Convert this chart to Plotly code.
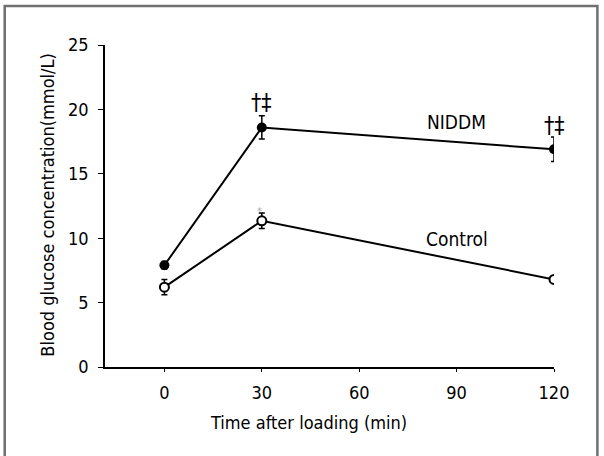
import plotly.graph_objects as go

time_min = [0, 30, 120]
niddm = [7.9, 18.6, 16.9]
niddm_err = [0.3, 0.9, 0.95]
control = [6.2, 11.35, 6.8]
control_err = [0.6, 0.6, 0.2]
x_ticks = [0, 30, 60, 90, 120]
y_ticks = [0, 5, 10, 15, 20, 25]

FONT = "DejaVu Sans Condensed, DejaVu Sans, sans-serif"

# plot area in figure pixels
L, R, T, B = 104.5, 554.5, 45, 367
W, H = R - L, B - T
def px(x):
    return (x - L) / W
def py(y):
    return (B - y) / H

fig = go.Figure()
fig.add_trace(go.Scatter(
    x=time_min, y=niddm, mode="lines+markers",
    line=dict(color="black", width=2),
    marker=dict(symbol="circle", size=10, color="black"),
    error_y=dict(type="data", array=niddm_err, color="black", thickness=1.5, width=3),
    showlegend=False))
fig.add_trace(go.Scatter(
    x=time_min, y=control, mode="lines+markers",
    line=dict(color="black", width=2),
    marker=dict(symbol="circle", size=9, color="white", line=dict(color="black", width=2)),
    error_y=dict(type="data", array=control_err, color="black", thickness=1.5, width=3),
    showlegend=False))

ann_font = dict(family=FONT, size=18, color="black")
lab_font = dict(family=FONT, size=19, color="black")
sym_font = dict(family=FONT, size=23, color="black")
C = dict(showarrow=False, xanchor="center", yanchor="middle")
fig.add_annotation(x=30, y=20.6, text="†‡", font=sym_font, **C)
fig.add_annotation(x=120, y=18.8, text="†‡", font=sym_font, **C)
fig.add_annotation(x=90, y=19.0, text="NIDDM", font=lab_font, **C)
fig.add_annotation(x=90, y=9.9, text="Control", font=lab_font, **C)
fig.add_annotation(x=29.2, y=12.1, text="*", font=dict(family=FONT, size=11, color="#aaaaaa"), **C)

# axis titles
fig.add_annotation(xref="paper", yref="paper", x=px(46), y=py(205),
                   text="Blood glucose concentration(mmol/L)", textangle=-90,
                   font=ann_font, **C)
fig.add_annotation(xref="paper", yref="paper", x=px(308), y=py(423),
                   text="Time after loading (min)", font=ann_font, **C)

# outer frame
fig.add_shape(type="rect", xref="paper", yref="paper",
              x0=px(4), x1=px(598), y0=py(470), y1=py(6),
              line=dict(color="#707070", width=2.5), fillcolor="rgba(0,0,0,0)")

fig.update_layout(
    width=604, height=456,
    margin=dict(l=L, r=604 - R, t=T, b=456 - B, pad=0),
    paper_bgcolor="white", plot_bgcolor="white",
    font=dict(family=FONT, size=18, color="black"),
    xaxis=dict(range=[-18.3, 120], automargin=False,
               tickvals=x_ticks, ticktext=[str(v) for v in x_ticks],
               showline=True, linecolor="black", linewidth=1.5,
               ticks="outside", ticklen=3, tickcolor="black",
               showgrid=False, zeroline=False, ticklabelstandoff=6),
    yaxis=dict(range=[0, 25], automargin=False,
               tickvals=y_ticks, ticktext=[str(v) for v in y_ticks],
               showline=True, linecolor="black", linewidth=1.5,
               ticks="outside", ticklen=5, tickcolor="black",
               showgrid=False, zeroline=False, ticklabelstandoff=6),
)

fig.write_html("out.html",
               post_script="document.body.style.margin='0';document.body.style.overflow='hidden';")
